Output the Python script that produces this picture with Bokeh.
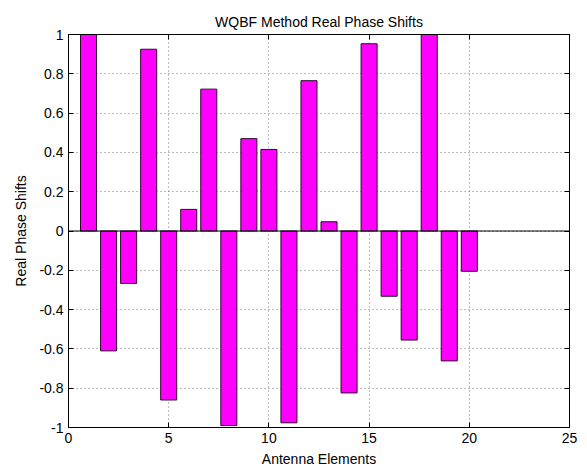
from bokeh.plotting import figure
from bokeh.models import LinearAxis, FixedTicker, Span, Range1d
from bokeh.embed import file_html
from bokeh.resources import INLINE

elements = list(range(1, 21))
phase = [1.0, -0.61, -0.267, 0.925, -0.86, 0.11, 0.722, -0.99, 0.47, 0.415,
         -0.976, 0.765, 0.047, -0.824, 0.953, -0.332, -0.555, 1.0, -0.661, -0.205]
xticks = [0, 5, 10, 15, 20, 25]
yticks = [-1, -0.8, -0.6, -0.4, -0.2, 0, 0.2, 0.4, 0.6, 0.8, 1]
ytick_labels = ["-1", "-0.8", "-0.6", "-0.4", "-0.2", "0", "0.2", "0.4", "0.6", "0.8", "1"]

FONT = "Liberation Sans"

p = figure(width=587, height=469, output_backend="svg", toolbar_location=None,
           x_range=Range1d(0, 25), y_range=Range1d(-1, 1),
           min_border_left=68, min_border_right=18, min_border_top=34, min_border_bottom=41)
p.title.text = "WQBF Method Real Phase Shifts"
p.title.align = "center"
p.title.text_font = FONT
p.title.text_font_size = "14px"
p.title.text_font_style = "normal"
p.title.text_color = "black"
p.title.standoff = 10

p.vbar(x=elements, top=phase, bottom=0, width=0.8,
       fill_color="#FF00FF", line_color="#2a0a2a", line_width=1)

p.add_layout(Span(location=0, dimension="width", line_color="black", line_width=1))

for ax in p.xaxis:
    ax.ticker = FixedTicker(ticks=xticks)
    ax.axis_label = "Antenna Elements"
    ax.major_label_standoff = 5
    ax.axis_label_standoff = 5
for ax in p.yaxis:
    ax.ticker = FixedTicker(ticks=yticks)
    ax.major_label_overrides = {t: l for t, l in zip(yticks, ytick_labels)}
    ax.axis_label = "Real Phase Shifts"
    ax.major_label_standoff = 5
    ax.axis_label_standoff = 7

for ax in list(p.xaxis) + list(p.yaxis):
    ax.major_tick_in = 5
    ax.major_tick_out = 0
    ax.minor_tick_in = 0
    ax.minor_tick_out = 0
    ax.axis_line_color = "black"
    ax.major_tick_line_color = "black"
    ax.major_label_text_font = FONT
    ax.major_label_text_font_size = "14px"
    ax.major_label_text_color = "black"
    ax.axis_label_text_font = FONT
    ax.axis_label_text_font_size = "14px"
    ax.axis_label_text_font_style = "normal"
    ax.axis_label_text_color = "black"

for loc, ticks in (("right", yticks), ("above", xticks)):
    a = LinearAxis(ticker=FixedTicker(ticks=ticks),
                   major_label_overrides={t: "" for t in ticks},
                   major_label_standoff=0,
                   major_tick_in=5, major_tick_out=0, minor_tick_in=0, minor_tick_out=0,
                   axis_line_color="black", major_tick_line_color="black")
    p.add_layout(a, loc)

p.xgrid.ticker = FixedTicker(ticks=xticks)
p.ygrid.ticker = FixedTicker(ticks=yticks)
for g in (p.xgrid, p.ygrid):
    g.grid_line_color = "#777777"
    g.grid_line_dash = "1 3"
    g.grid_line_width = 1
p.outline_line_color = "black"

open("out.html", "w").write(file_html(p, INLINE))
